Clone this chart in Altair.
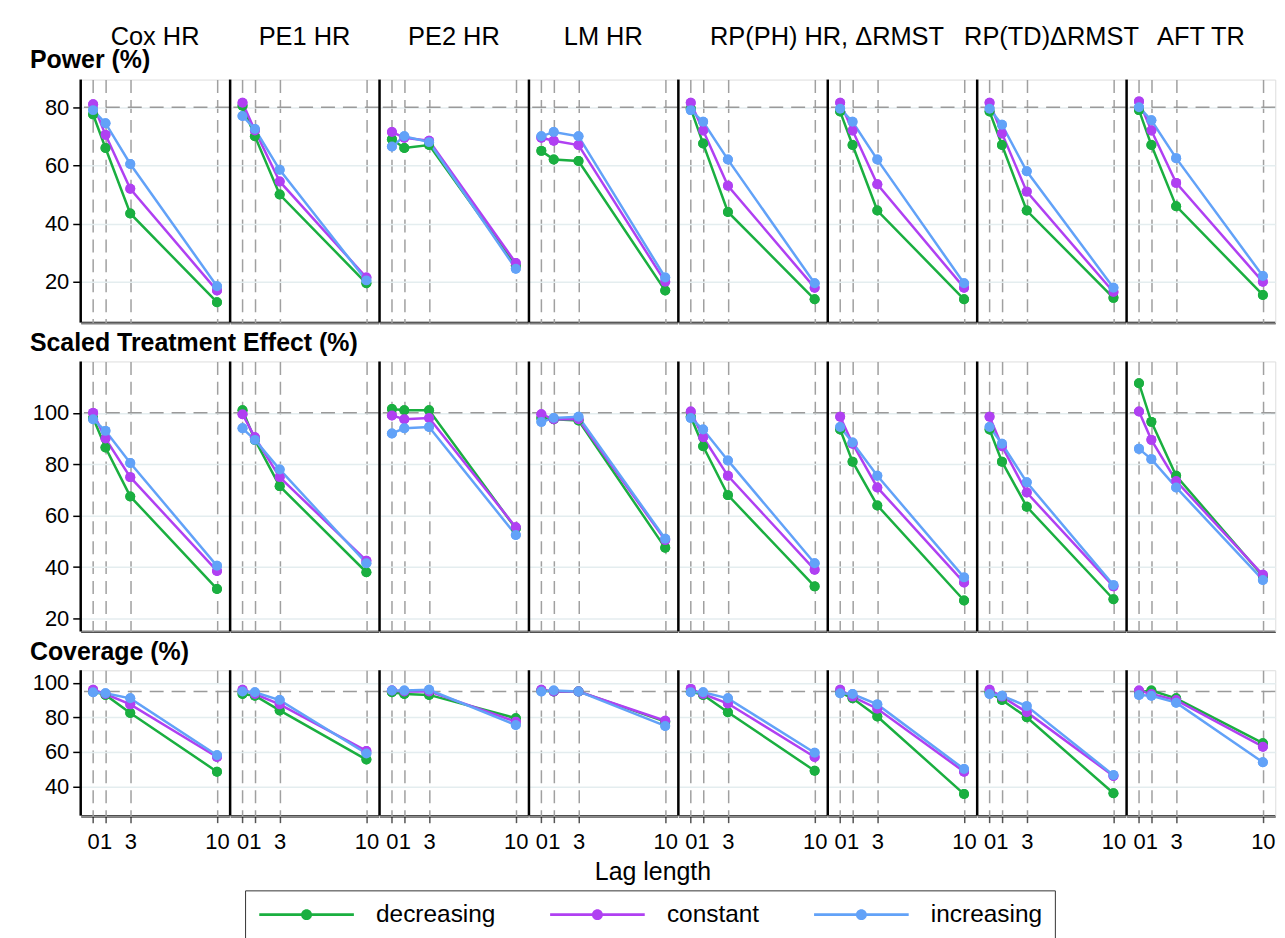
import altair as alt
import pandas as pd

# ---------------- data ----------------
METHODS = ["Cox HR", "PE1 HR", "PE2 HR", "LM HR", "RP(PH) HR", "RP(PH) ΔRMST",
           "RP(TD) ΔRMST", "AFT TR"]
COL_TITLES = ["Cox HR", "PE1 HR", "PE2 HR", "LM HR", "RP(PH) HR, ΔRMST",
              "RP(TD)ΔRMST", "AFT TR"]
COL_TITLE_PANEL = [0, 1, 2, 3, 4, 6, 7]   # panel where each column title starts
COL_TITLE_SPAN = [1, 1, 1, 1, 2, 1, 1]    # number of panels it covers
LAGS = [0, 1, 3, 10]
SERIES = ["decreasing", "constant", "increasing"]

# values per method (rows) at lags 0, 1, 3, 10
POWER_DECREASING = [[77.5, 66, 43.5, 13], [80.5, 70, 50, 19.5], [69, 66, 67, 25.5],
                    [65, 62, 61.5, 17], [79.5, 67.5, 44, 14], [78.5, 67, 44.5, 14],
                    [78.5, 67, 44.5, 14.5], [79, 67, 46, 15.5]]
POWER_CONSTANT = [[81, 70.5, 52, 17], [81.5, 72, 54.5, 21.5], [71.5, 69.5, 68.5, 26.5],
                  [69.5, 68.5, 67, 20], [81.5, 72, 53, 18], [81.5, 72, 53.5, 18],
                  [81.5, 71, 51, 16.5], [82, 72, 54, 20]]
POWER_INCREASING = [[79, 74.5, 60.5, 18.5], [77, 72.5, 58.5, 20.5], [66.5, 70, 68, 24.5],
                    [70, 71.5, 70, 21.5], [79, 75, 62, 19.5], [79.5, 75, 62, 19.5],
                    [79.5, 74, 58, 18], [80, 75.5, 62.5, 22]]

SCALED_DECREASING = [[98, 86.5, 67.5, 31.5], [101, 89.5, 71.5, 38], [101.5, 101, 101, 55],
                     [98, 97.5, 97, 47.5], [98.5, 87, 68, 32.5], [93.5, 81, 64, 27],
                     [93.5, 81, 63.5, 27.5], [111.5, 96.5, 75.5, 36.5]]
SCALED_CONSTANT = [[100, 90, 75, 38.5], [99.5, 90.5, 75, 42.5], [99, 97.5, 98, 55.5],
                   [99.5, 97.5, 97.5, 50.5], [100.5, 90.5, 75.5, 39], [98.5, 88, 71, 34],
                   [98.5, 87, 69, 32.5], [100.5, 89.5, 73.5, 37]]
SCALED_INCREASING = [[97.5, 93, 80.5, 40.5], [94, 89.5, 78, 41.5], [92, 94, 94.5, 52.5],
                     [96.5, 98, 98.5, 51], [98, 93.5, 81.5, 41.5], [94.5, 88.5, 75.5, 36],
                     [94.5, 88, 73, 33], [86, 82, 71, 35]]

COVERAGE_DECREASING = [[95, 93, 82.5, 48.5], [93.5, 92.5, 84, 55.5], [94.5, 93.5, 93, 79.5],
                       [95.5, 95, 95, 77.5], [95, 93, 83, 49], [94.5, 91, 80.5, 35.5],
                       [94.5, 90, 80, 36], [94.5, 95.5, 91, 65]]
COVERAGE_CONSTANT = [[96, 93.5, 87.5, 57], [96, 93.5, 87.5, 60.5], [95.5, 95, 95, 77.5],
                     [96, 95, 95, 78], [96.5, 93.5, 88, 57], [96, 92, 85, 48.5],
                     [96, 92, 83, 46], [95.5, 93.5, 90, 63]]
COVERAGE_INCREASING = [[94.5, 94, 91, 58], [95, 94.5, 90, 59], [95.5, 95.5, 96, 75.5],
                       [95, 95.5, 95, 75], [94.5, 94.5, 91, 59.5], [94, 93.5, 87.5, 50],
                       [93.5, 92.5, 86.5, 46.5], [93, 92.5, 88.5, 54]]

ROW_TITLES = ["Power (%)", "Scaled Treatment Effect (%)", "Coverage (%)"]
ROW_VALUES = [
    [POWER_DECREASING, POWER_CONSTANT, POWER_INCREASING],
    [SCALED_DECREASING, SCALED_CONSTANT, SCALED_INCREASING],
    [COVERAGE_DECREASING, COVERAGE_CONSTANT, COVERAGE_INCREASING],
]
REF_LINES = [80, 100, 95]
Y_TICKS = [[20, 40, 60, 80], [20, 40, 60, 80, 100], [40, 60, 80, 100]]
Y_DOMAINS = [[6, 89.5], [15, 120], [23, 107.3]]
X_DOMAIN = [-1, 11]
LEGEND_X_LABEL = "Lag length"

# ---------------- style / layout ----------------
FONT = "Liberation Sans, Arial, Helvetica, sans-serif"
SERIES_COLORS = ["#1aaf40", "#b040f2", "#62a2f8"]
PANEL_W = [149.25, 149.25, 149.25]
ROW_H = [244, 271, 146]
ROWTITLE_DX = [-51, -51, -51]
ROWTITLE_DY = [-12, -10, -10]
COLTITLE_DY = -35
# legend key: a 95px line with a dot in its middle, starting at the key's left edge
LEGEND_SYMBOL = ("M-1,-0.13H8.5V0.13H-1Z "
                 "M4.3,0A0.55,0.55,0,1,1,3.2,0A0.55,0.55,0,1,1,4.3,0Z")

color_scale = alt.Scale(domain=SERIES, range=SERIES_COLORS)
XMIN, XMAX = X_DOMAIN

legend = alt.Legend(orient="none", legendX=165, legendY=814,
                    direction="horizontal", title=None,
                    symbolType=LEGEND_SYMBOL, symbolSize=400,
                    symbolStrokeWidth=0, symbolOpacity=1,
                    labelFontSize=24.5, labelFont=FONT, labelColor="black",
                    labelOffset=95, columnPadding=52, padding=12,
                    strokeColor="#333")


def build_row(i):
    recs = []
    for m_i, m in enumerate(METHODS):
        for s_i, s in enumerate(SERIES):
            for l_i, lag in enumerate(LAGS):
                recs.append(dict(kind="pt", method=m, series=s, lag=lag,
                                 value=ROW_VALUES[i][s_i][m_i][l_i]))
        recs.append(dict(kind="ref", method=m, value=REF_LINES[i]))
    recs.append(dict(kind="rowtitle", method=METHODS[0], label=ROW_TITLES[i]))
    if i == 0:
        for t_i, t in enumerate(COL_TITLES):
            tx = XMIN + (XMAX - XMIN) * COL_TITLE_SPAN[t_i] / 2
            recs.append(dict(kind="coltitle", method=METHODS[COL_TITLE_PANEL[t_i]],
                             label=t, tx=tx))
    df = pd.DataFrame(recs)

    last = i == 2
    x_scale = alt.Scale(domain=X_DOMAIN, nice=False, zero=False)
    y_scale = alt.Scale(domain=Y_DOMAINS[i], nice=False, zero=False)
    x_axis = alt.Axis(values=LAGS, title=None, labels=last, ticks=last,
                      tickSize=7, tickColor="#555", tickWidth=1.5,
                      labelFontSize=22, labelColor="black", labelFont=FONT,
                      labelPadding=9, labelFlush=False,
                      domain=True, domainColor="black", domainWidth=2.5,
                      grid=True, gridColor="#a0a0a0", gridWidth=1.5,
                      gridDash=[13, 7])
    y_axis = alt.Axis(values=Y_TICKS[i], title=None, domain=False,
                      ticks=True, tickSize=8, tickColor="black", tickWidth=1.5,
                      labelFontSize=22, labelColor="black", labelFont=FONT,
                      labelPadding=4,
                      grid=True, gridColor="#e4edef", gridWidth=1.5)

    X = alt.X("lag:Q", scale=x_scale, axis=x_axis)
    Y = alt.Y("value:Q", scale=y_scale, axis=y_axis)
    pts = alt.datum.kind == "pt"

    ref = alt.Chart().mark_rule(color="#9a9a9a", strokeWidth=1.5,
                                strokeDash=[14, 8]).encode(
        y=Y).transform_filter(alt.datum.kind == "ref")
    left_axis = alt.Chart().mark_rule(color="black", strokeWidth=2.5).encode(
        x=alt.X(datum=XMIN, type="quantitative", scale=x_scale, axis=x_axis)
    ).transform_filter(alt.datum.kind == "ref")
    # first point layer carries the legend; lines and the top point layer follow
    points_base = alt.Chart().mark_circle(size=100, opacity=1).encode(
        x=X, y=Y,
        color=alt.Color("series:N", scale=color_scale, legend=legend),
    ).transform_filter(pts)
    lines = alt.Chart().mark_line(strokeWidth=2.5).encode(
        x=X, y=Y,
        color=alt.Color("series:N", scale=color_scale, legend=None),
        order="lag:Q",
    ).transform_filter(pts)
    points_top = alt.Chart().mark_circle(size=100, opacity=1).encode(
        x=X, y=Y,
        color=alt.Color("series:N", scale=color_scale, legend=None),
    ).transform_filter(pts)

    row_title = alt.Chart().mark_text(
        fontSize=25, fontWeight="bold", font=FONT, align="left",
        baseline="alphabetic", color="black").encode(
        x=alt.value(ROWTITLE_DX[i]), y=alt.value(ROWTITLE_DY[i]),
        text="label:N").transform_filter(alt.datum.kind == "rowtitle")

    layers = [ref, left_axis, points_base, lines, points_top, row_title]
    if i == 0:
        col_title = alt.Chart().mark_text(
            fontSize=25.5, font=FONT, align="center", baseline="alphabetic",
            color="black").encode(
            x=alt.X("tx:Q", scale=x_scale, axis=x_axis),
            y=alt.value(COLTITLE_DY), text="label:N",
        ).transform_filter(alt.datum.kind == "coltitle")
        layers.append(col_title)

    layer = alt.layer(*layers, data=df).properties(width=PANEL_W[i], height=ROW_H[i])
    fc = layer.facet(
        column=alt.Column("method:N", sort=METHODS,
                          header=alt.Header(labels=False, title=None)),
        spacing=0, bounds="flush",
    )
    if last:
        fc = fc.properties(title=alt.TitleParams(
            LEGEND_X_LABEL, orient="bottom", anchor="middle", fontSize=25,
            fontWeight="normal", font=FONT, color="black", offset=8))
    return fc


chart = alt.vconcat(build_row(0), build_row(1), build_row(2), spacing=6).properties(
    padding={"left": 21, "top": 14, "right": 0, "bottom": 0}
).configure_view(stroke="#777", strokeWidth=1).configure(font=FONT)

chart.save("out.html", embed_options={"renderer": "svg", "actions": False})
